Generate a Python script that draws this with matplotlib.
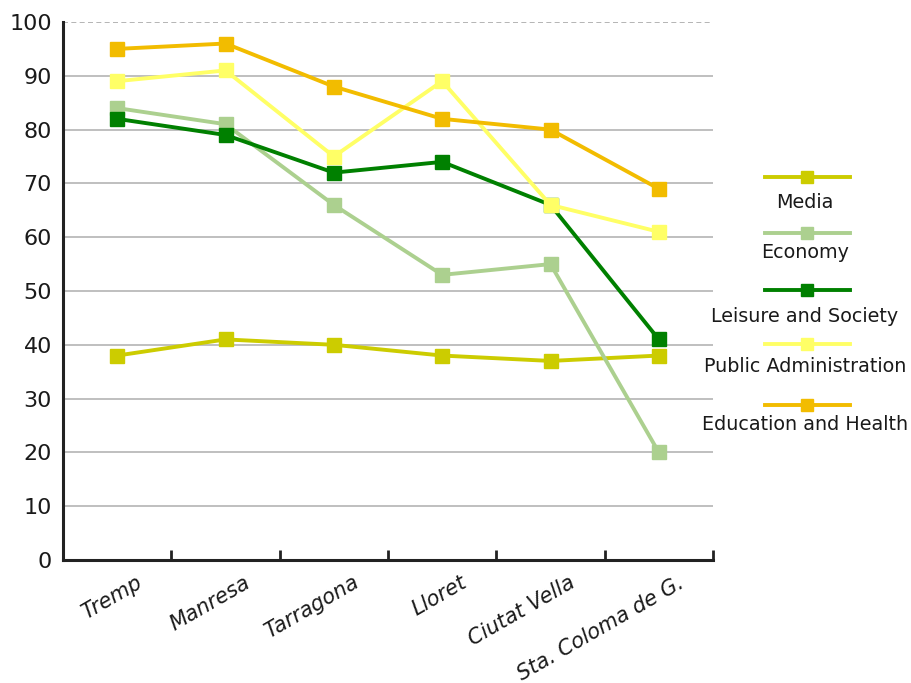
import matplotlib
matplotlib.use("Agg")
import matplotlib.pyplot as plt
import matplotlib.transforms as mtransforms
from matplotlib.lines import Line2D
import numpy as np

# Towns along the x axis
towns = ["Tremp", "Manresa", "Tarragona", "Lloret", "Ciutat Vella", "Sta. Coloma de G."]

# Scores per sector, one list per series
media = [38, 41, 40, 38, 37, 38]
economy = [84, 81, 66, 53, 55, 20]
leisure = [82, 79, 72, 74, 66, 41]
public_admin = [89, 91, 75, 89, 66, 61]
education = [95, 96, 88, 82, 80, 69]

series_names = ["Media", "Economy", "Leisure and Society",
                "Public Administration", "Education and Health"]
series_values = [media, economy, leisure, public_admin, education]
colors = ["#cccc00", "#acd08f", "#008000", "#ffff66", "#f2bc00"]

y_ticks = list(range(0, 101, 10))

fig = plt.figure(figsize=(9.11, 6.83), dpi=100)
ax = fig.add_axes([63 / 911, 1 - 560 / 683, 650 / 911, 538 / 683])

x = np.arange(len(towns))
for name, vals, col in zip(series_names, series_values, colors):
    ax.plot(x, vals, color=col, lw=2.8, marker="s", markersize=9.5,
            markeredgecolor=col, solid_joinstyle="miter", zorder=3)

ax.set_xlim(-0.5, len(towns) - 0.5)
ax.set_ylim(0, 100)

# gridlines
for v in y_ticks[1:]:
    if v == 100:
        ax.axhline(v, color="#a8a8a8", lw=1.2, ls=(0, (3, 2)), zorder=1)
    else:
        ax.axhline(v, color="#b4b4b4", lw=1.2, zorder=1)

ax.set_yticks(y_ticks)
ax.set_yticklabels([str(v) for v in y_ticks], fontsize=16, color="#1a1a1a")
ax.tick_params(axis="y", length=0, pad=8)

ax.set_xticks(x)
ax.set_xticks(list(x + 0.5), minor=True)
ax.tick_params(axis="x", which="major", length=0, pad=9)
ax.tick_params(axis="x", which="minor", direction="in", length=7, width=2, color="#222222")
ax.set_xticklabels(towns, rotation=30, ha="right", va="top", fontsize=15,
                   style="italic", color="#1a1a1a")
shift = mtransforms.ScaledTranslation(28 / 100, 0, fig.dpi_scale_trans)
for lab in ax.get_xticklabels():
    lab.set_transform(lab.get_transform() + shift)

for side in ["top", "right"]:
    ax.spines[side].set_visible(False)
ax.spines["left"].set_linewidth(2.2)
ax.spines["bottom"].set_linewidth(2.2)
ax.spines["left"].set_color("#222222")
ax.spines["bottom"].set_color("#222222")

# legend: short line with marker, name centred underneath
line_y = [177, 233, 290, 344, 405]
text_y = [202, 253, 317, 367, 424]
for name, col, ly, ty in zip(series_names, colors, line_y, text_y):
    yf = 1 - ly / 683
    fig.add_artist(Line2D([765 / 911, 850 / 911], [yf, yf], color=col, lw=2.8,
                          transform=fig.transFigure))
    fig.add_artist(Line2D([807 / 911], [yf], color=col, marker="s", markersize=9,
                          transform=fig.transFigure))
    fig.text(805 / 911, 1 - ty / 683, name, ha="center", va="center", fontsize=13.8,
             color="#1a1a1a")

fig.savefig("out.png", dpi=100)
